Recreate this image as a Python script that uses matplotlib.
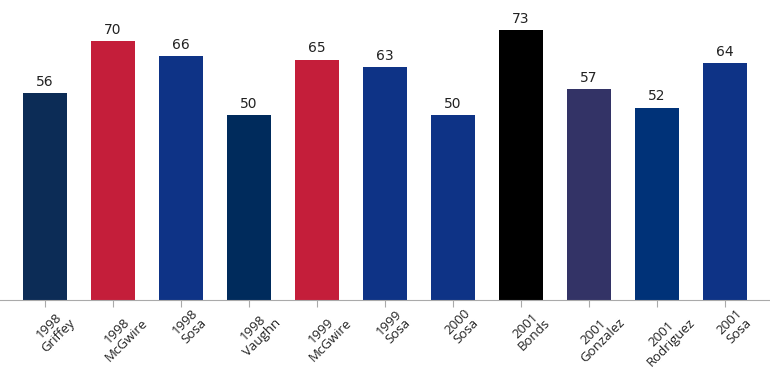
import matplotlib.pyplot as plt

years = ['1998', '1998', '1998', '1998', '1999', '1999', '2000', '2001', '2001', '2001', '2001']
players = ['Griffey', 'McGwire', 'Sosa', 'Vaughn', 'McGwire', 'Sosa', 'Sosa',
           'Bonds', 'Gonzalez', 'Rodriguez', 'Sosa']
home_runs = [56, 70, 66, 50, 65, 63, 50, 73, 57, 52, 64]

team_colors = {'Griffey': '#0C2C56', 'McGwire': '#C41E3A', 'Sosa': '#0E3386',
               'Vaughn': '#002B5C', 'Bonds': '#000000', 'Gonzalez': '#333366',
               'Rodriguez': '#003278'}

fig = plt.figure(figsize=(7.7, 3.91), dpi=100)
ax = fig.add_axes([0, 91 / 391, 1, 300 / 391])

x = list(range(len(home_runs)))
colors = [team_colors[p] for p in players]
bars = ax.bar(x, home_runs, width=0.65, color=colors)

for rect, v in zip(bars, home_runs):
    ax.annotate(str(v), (rect.get_x() + rect.get_width() / 2, v),
                xytext=(0, 3), textcoords='offset points',
                ha='center', va='bottom', fontsize=10, color='#222222')

ax.set_xlim(-0.66, len(home_runs) - 0.34)
ax.set_ylim(0, 81.1)

# category labels, rotated and nudged right like the original
ax.set_xticks(x)
ax.set_xticklabels([])
for xi, y, p in zip(x, years, players):
    ax.annotate(f'{y}\n{p}', (xi, 0), xycoords=('data', 'axes fraction'),
                xytext=(9, -7), textcoords='offset pixels',
                rotation=45, ha='center', va='top', fontsize=9.5,
                family='Open Sans', color='#222222', linespacing=1.0,
                annotation_clip=False)

ax.set_yticks([])
for s in ['left', 'right', 'top']:
    ax.spines[s].set_visible(False)
ax.spines['bottom'].set_color('#AAAAAA')
ax.tick_params(axis='x', length=5, color='#AAAAAA')

fig.savefig('out.png', dpi=100)
